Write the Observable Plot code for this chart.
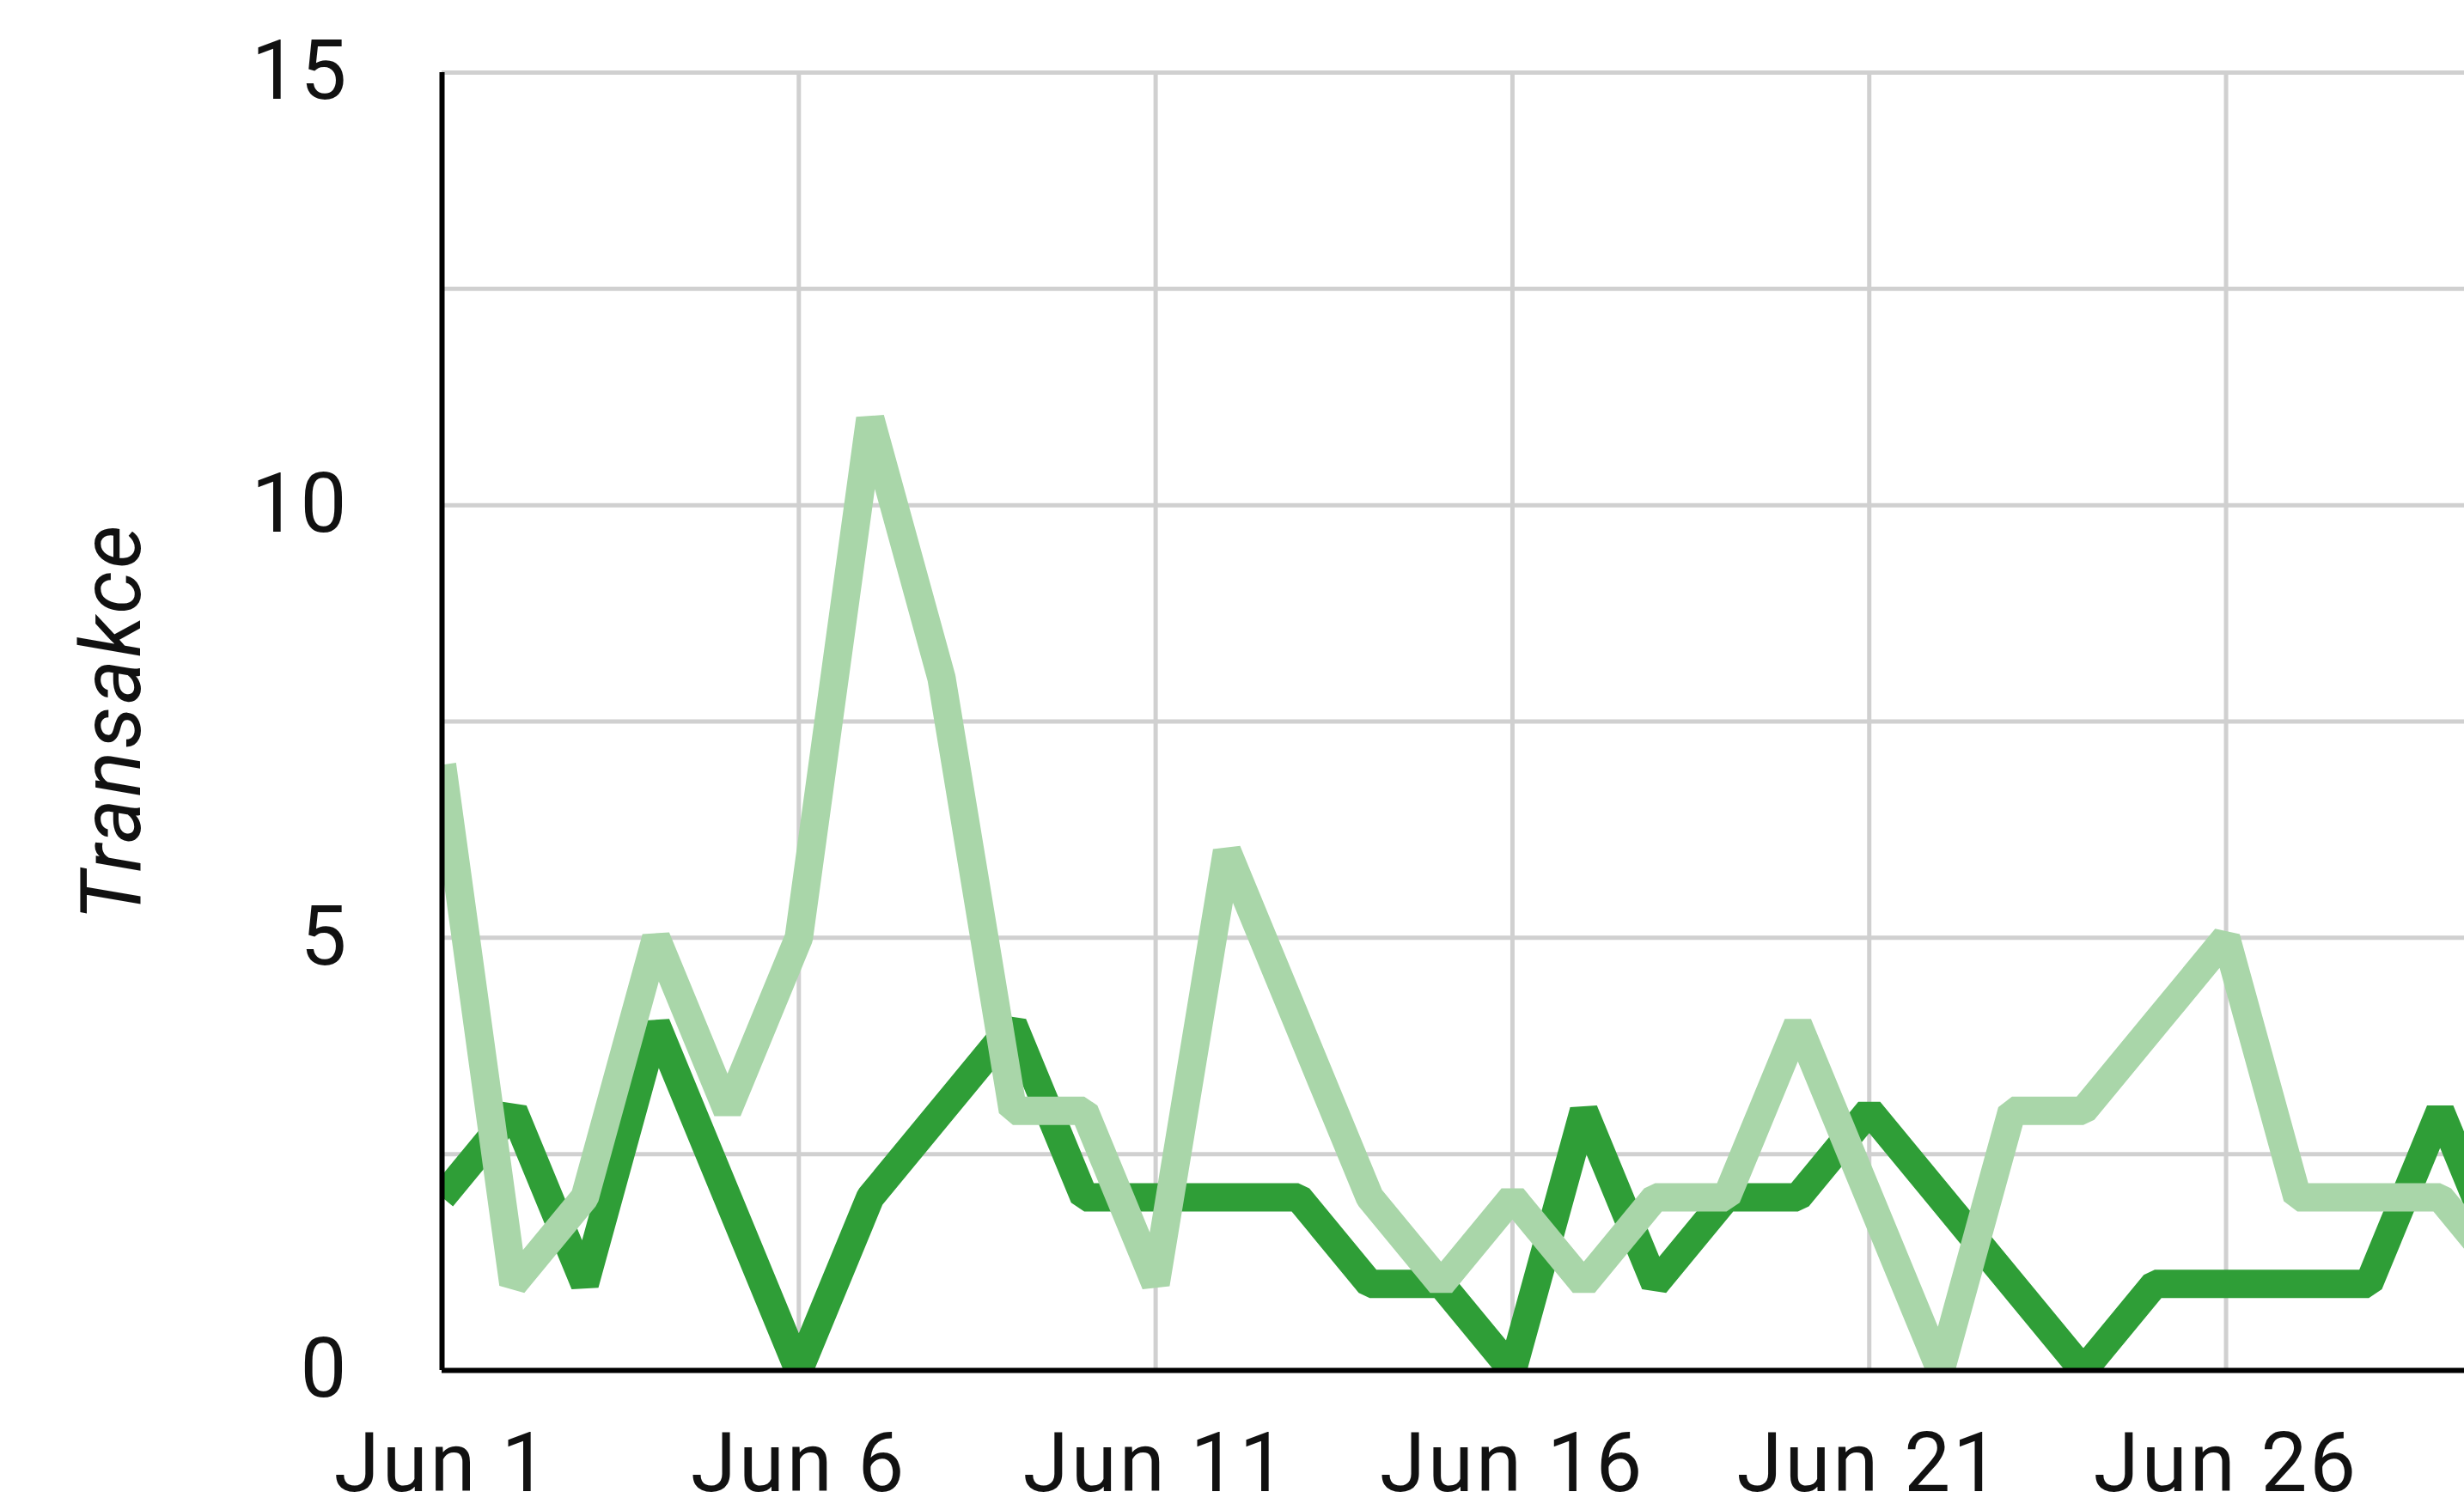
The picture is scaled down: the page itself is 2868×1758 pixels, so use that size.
<!DOCTYPE html>
<html>
<head>
<meta charset="utf-8">
<script src="https://cdn.jsdelivr.net/npm/d3@7"></script>
<script src="https://cdn.jsdelivr.net/npm/@observablehq/plot@0.6"></script>
<style>
  html, body { margin: 0; padding: 0; background: #fff; }
</style>
</head>
<body>
<div id="chart"></div>
<script>
// ---- data ----
const dates = [
  "2021-06-01","2021-06-02","2021-06-03","2021-06-04","2021-06-05","2021-06-06",
  "2021-06-07","2021-06-08","2021-06-09","2021-06-10","2021-06-11","2021-06-12",
  "2021-06-13","2021-06-14","2021-06-15","2021-06-16","2021-06-17","2021-06-18",
  "2021-06-19","2021-06-20","2021-06-21","2021-06-22","2021-06-23","2021-06-24",
  "2021-06-25","2021-06-26","2021-06-27","2021-06-28","2021-06-29","2021-06-30"
];
const seriesDark  = [2,3,1,4,2,0,2,3,4,2,2,2,2,1,1,0,3,1,2,2,3,2,1,0,1,1,1,1,3,1];
const seriesLight = [7,1,2,5,3,5,11,8,3,3,1,6,4,2,1,2,1,2,2,4,2,0,3,3,4,5,2,2,2,1];
const tickDates  = ["2021-06-01","2021-06-06","2021-06-11","2021-06-16","2021-06-21","2021-06-26"];
const tickLabels = ["Jun 1","Jun 6","Jun 11","Jun 16","Jun 21","Jun 26"];
const yLabelTicks = [0, 5, 10, 15];
const yGridTicks  = [0, 2.5, 5, 7.5, 10, 12.5, 15];
const yLabel = "Transakce";
const xDomainEnd = "2021-06-29T08:10:00Z"; // visible window is cropped here

// ---- build tables ----
const parse = s => new Date(s + (s.length === 10 ? "T00:00:00Z" : ""));
const rowsDark  = dates.map((d, i) => ({date: parse(d), value: seriesDark[i]}));
const rowsLight = dates.map((d, i) => ({date: parse(d), value: seriesLight[i]}));
const xTicks = tickDates.map(parse);
const labelByTime = new Map(xTicks.map((d, i) => [+d, tickLabels[i]]));

const chart = Plot.plot({
  width: 2868,
  height: 1758,
  marginLeft: 514,
  marginRight: 0,
  marginTop: 84,
  marginBottom: 163,
  style: {
    fontFamily: "Roboto, 'Noto Sans', sans-serif",
    fontSize: "96px",
    letterSpacing: "3px",
    color: "#111",
    background: "#fff",
    overflow: "visible"
  },
  x: {
    type: "utc",
    domain: [parse(dates[0]), new Date(xDomainEnd)],
    ticks: xTicks,
    tickFormat: d => labelByTime.get(+d) ?? "",
    tickSize: 0,
    tickPadding: 72,
    label: null
  },
  y: {
    domain: [0, 15],
    ticks: yLabelTicks,
    tickSize: 0,
    tickPadding: 108,
    label: null
  },
  marks: [
    Plot.ruleY(yGridTicks, {stroke: "#d0d0d0", strokeWidth: 5, strokeOpacity: 1}),
    Plot.ruleX(xTicks, {stroke: "#d0d0d0", strokeWidth: 5, strokeOpacity: 1}),
    Plot.line(rowsDark, {
      x: "date", y: "value", stroke: "#2f9e37", strokeWidth: 33,
      strokeLinejoin: "miter", strokeLinecap: "butt", clip: true
    }),
    Plot.line(rowsLight, {
      x: "date", y: "value", stroke: "#a9d6a9", strokeWidth: 33,
      strokeLinejoin: "miter", strokeLinecap: "butt", clip: true
    }),
    Plot.ruleY([0], {stroke: "#000", strokeWidth: 6}),
    Plot.ruleX([parse(dates[0])], {stroke: "#000", strokeWidth: 6}),
    Plot.text([yLabel], {
      frameAnchor: "left", rotate: -90, dx: -352,
      lineAnchor: "bottom", textAnchor: "middle",
      fontStyle: "italic", fontSize: 98, fill: "#111"
    })
  ]
});
document.getElementById("chart").appendChild(chart);
</script>
</body>
</html>
